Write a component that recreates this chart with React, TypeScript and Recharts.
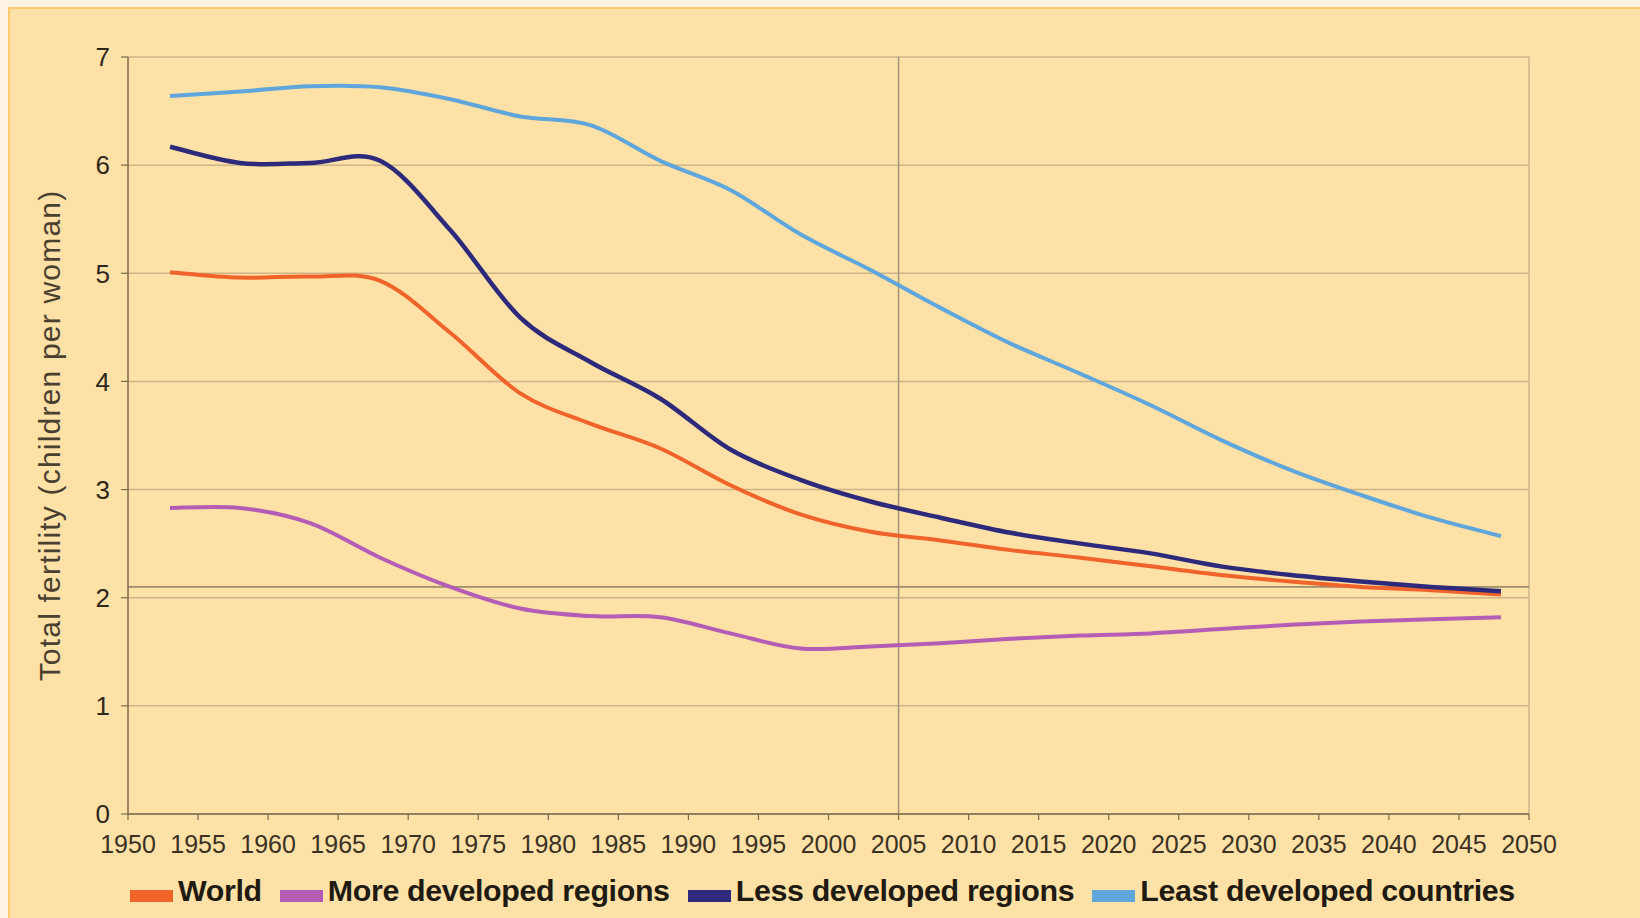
import React from 'react';
import { LineChart, Line, XAxis, YAxis, CartesianGrid, ReferenceLine, Legend } from 'recharts';

const years = [1953, 1958, 1963, 1968, 1973, 1978, 1983, 1988, 1993, 1998, 2003, 2008, 2013, 2018, 2023, 2028, 2033, 2038, 2043, 2048];
const world = [5.01, 4.96, 4.97, 4.93, 4.45, 3.89, 3.61, 3.38, 3.04, 2.77, 2.61, 2.53, 2.44, 2.37, 2.29, 2.21, 2.15, 2.1, 2.07, 2.03];
const moreDeveloped = [2.83, 2.83, 2.69, 2.37, 2.1, 1.9, 1.83, 1.82, 1.67, 1.53, 1.55, 1.58, 1.62, 1.65, 1.67, 1.71, 1.75, 1.78, 1.8, 1.82];
const lessDeveloped = [6.17, 6.02, 6.02, 6.04, 5.4, 4.59, 4.18, 3.84, 3.37, 3.09, 2.89, 2.74, 2.6, 2.5, 2.41, 2.29, 2.21, 2.15, 2.1, 2.06];
const leastDeveloped = [6.64, 6.68, 6.73, 6.72, 6.61, 6.45, 6.37, 6.04, 5.77, 5.36, 5.03, 4.68, 4.35, 4.07, 3.78, 3.46, 3.18, 2.95, 2.74, 2.57];

const xTicks = [1950, 1955, 1960, 1965, 1970, 1975, 1980, 1985, 1990, 1995, 2000, 2005, 2010, 2015, 2020, 2025, 2030, 2035, 2040, 2045, 2050];
const yTicks = [0, 1, 2, 3, 4, 5, 6, 7];
const replacementLevel = 2.1;
const markerYear = 2005;

const seriesNames = ['World', 'More developed regions', 'Less developed regions', 'Least developed countries'];
const seriesColors = ['#F0632A', '#B55DB6', '#2D2A7C', '#5FA6DC'];

const data = years.map((y, i) => ({
  year: y,
  world: world[i],
  more: moreDeveloped[i],
  less: lessDeveloped[i],
  least: leastDeveloped[i],
}));

const FONT = '"Liberation Sans", Arial, Helvetica, sans-serif';

// Smooth curve (Catmull-Rom style Bezier, like spreadsheet "smoothed line")
const smoothCurve: any = (context: any) => {
  let pts: number[][] = [];
  return {
    areaStart() {},
    areaEnd() {},
    lineStart() {
      pts = [];
    },
    point(x: number, y: number) {
      pts.push([+x, +y]);
    },
    lineEnd() {
      const n = pts.length;
      if (n === 0) return;
      context.moveTo(pts[0][0], pts[0][1]);
      if (n === 1) return;
      for (let i = 0; i < n - 1; i++) {
        const p0 = pts[i - 1] || pts[i];
        const p1 = pts[i];
        const p2 = pts[i + 1];
        const p3 = pts[i + 2] || pts[i + 1];
        const c1x = p1[0] + (p2[0] - p0[0]) / 6;
        const c1y = p1[1] + (p2[1] - p0[1]) / 6;
        const c2x = p2[0] - (p3[0] - p1[0]) / 6;
        const c2y = p2[1] - (p3[1] - p1[1]) / 6;
        context.bezierCurveTo(c1x, c1y, c2x, c2y, p2[0], p2[1]);
      }
    },
  };
};

const renderLegend = () => (
  <div style={{ display: 'flex', alignItems: 'flex-start', height: 40, paddingLeft: 130, fontFamily: FONT }}>
    {seriesNames.map((name, i) => (
      <div key={name} style={{ display: 'flex', alignItems: 'flex-start', marginRight: 18 }}>
        <div style={{ width: 43, height: 12, marginTop: 15, background: seriesColors[i], marginRight: 5 }} />
        <span style={{ fontSize: 30.4, lineHeight: '31px', fontWeight: 700, color: '#1f1a12', letterSpacing: -0.35, whiteSpace: 'nowrap' }}>{name}</span>
      </div>
    ))}
  </div>
);

export default function App() {
  return (
    <div style={{ position: 'absolute', left: 0, top: 0, width: 1640, height: 918, overflow: 'hidden', background: '#FEF2E3' }}>
      <div style={{ position: 'absolute', left: 8, top: 7, right: 0, bottom: 0, background: '#FDE1A6', borderTop: '2px solid #FBCB6E', borderLeft: '2px solid #FBCB6E' }} />
      <div style={{ position: 'absolute', left: 0, top: 0 }}>
        <LineChart width={1640} height={918} data={data} margin={{ top: 57, right: 111, bottom: 24, left: 20 }}>
          <CartesianGrid horizontal={true} vertical={false} stroke="#CDB489" strokeWidth={1.5} />
          <XAxis
            dataKey="year"
            type="number"
            domain={[1950, 2050]}
            ticks={xTicks}
            interval={0}
            height={40}
            allowDataOverflow
            axisLine={{ stroke: '#7A6A4C', strokeWidth: 1.5 }}
            tickLine={{ stroke: '#7A6A4C', strokeWidth: 1.2 }}
            tickSize={6}
            tickMargin={15}
            tick={{ fill: '#3A3124', fontSize: 25, fontFamily: FONT }}
          />
          <YAxis
            type="number"
            domain={[0, 7]}
            ticks={yTicks}
            interval={0}
            width={108}
            axisLine={{ stroke: '#7A6A4C', strokeWidth: 1.5 }}
            tickLine={{ stroke: '#7A6A4C', strokeWidth: 1.2 }}
            tickSize={7}
            tickMargin={11}
            tick={{ fill: '#2E271C', fontSize: 26, fontFamily: FONT }}
            label={{
              value: 'Total fertility (children per woman)',
              angle: -90,
              position: 'insideLeft',
              offset: 29,
              style: { textAnchor: 'middle', fill: '#4A4030', fontSize: 30, fontFamily: FONT, letterSpacing: 1.2 },
            }}
          />
          <ReferenceLine x={markerYear} stroke="#A3957A" strokeWidth={1.5} />
          <ReferenceLine x={2050} stroke="#CDB489" strokeWidth={1.5} />
          <ReferenceLine y={replacementLevel} stroke="#9C8D6B" strokeWidth={1.6} />
          <Legend content={renderLegend} verticalAlign="bottom" wrapperStyle={{ top: 875, left: 0, width: 1640 }} />
          <Line dataKey="least" name={seriesNames[3]} stroke={seriesColors[3]} strokeWidth={4} type={smoothCurve} dot={false} isAnimationActive={false} />
          <Line dataKey="more" name={seriesNames[1]} stroke={seriesColors[1]} strokeWidth={4} type={smoothCurve} dot={false} isAnimationActive={false} />
          <Line dataKey="world" name={seriesNames[0]} stroke={seriesColors[0]} strokeWidth={4} type={smoothCurve} dot={false} isAnimationActive={false} />
          <Line dataKey="less" name={seriesNames[2]} stroke={seriesColors[2]} strokeWidth={4.5} type={smoothCurve} dot={false} isAnimationActive={false} />
        </LineChart>
      </div>
    </div>
  );
}
